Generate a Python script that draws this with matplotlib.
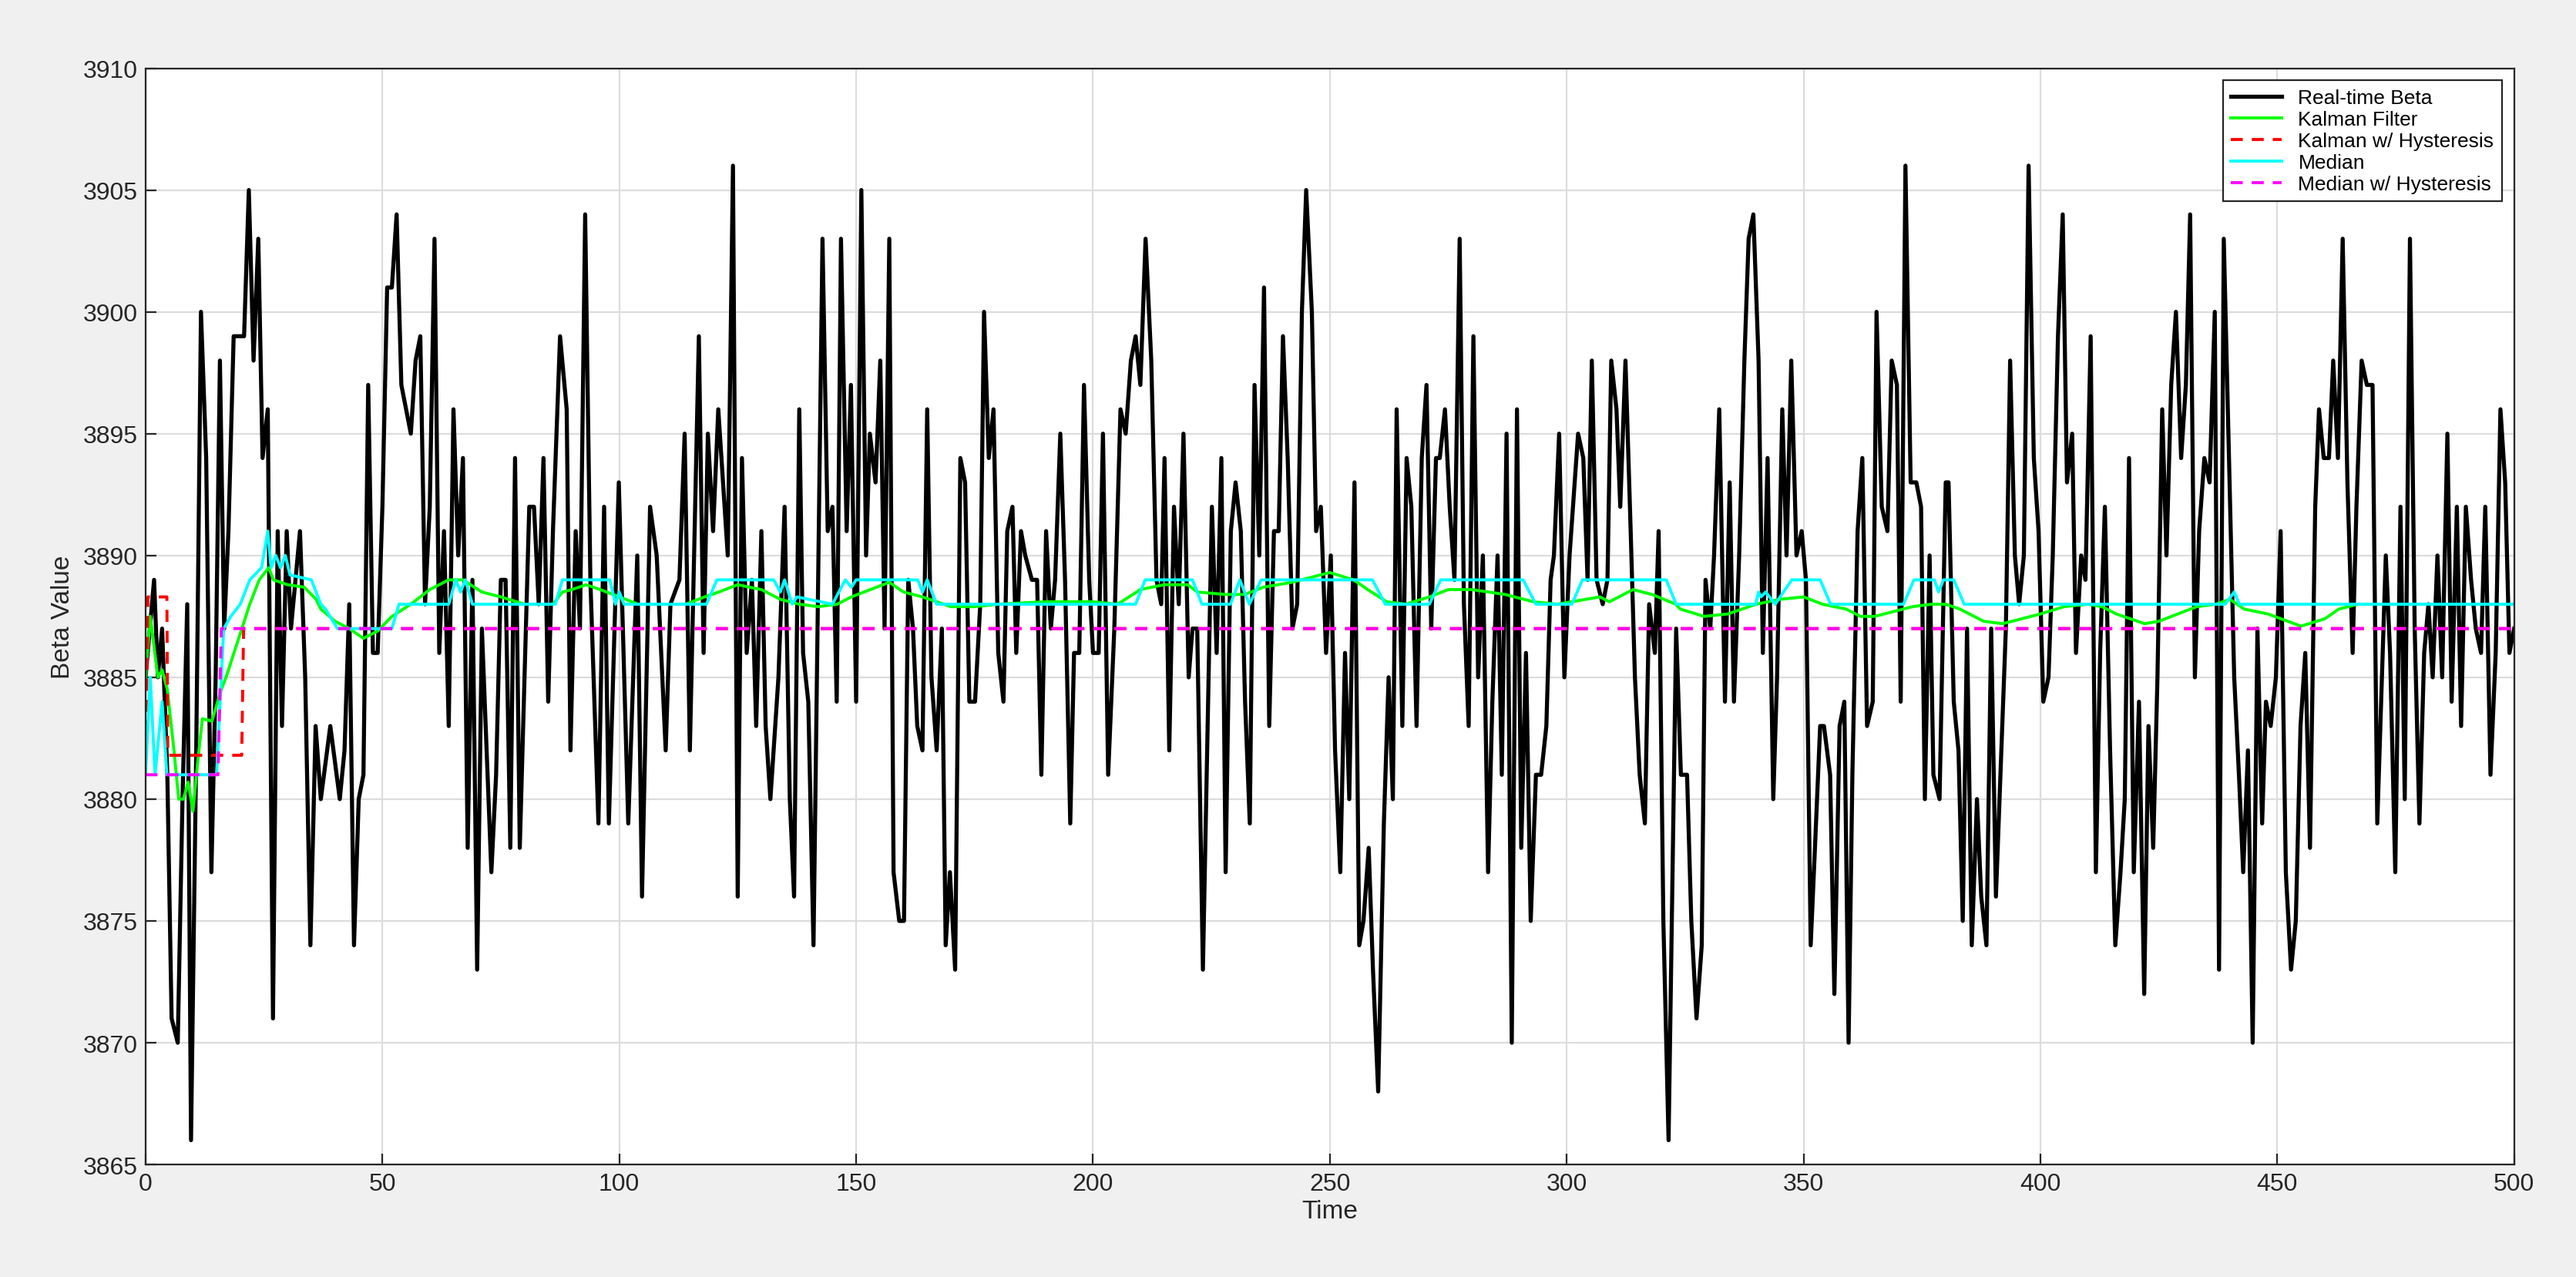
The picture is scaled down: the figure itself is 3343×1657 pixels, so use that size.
import matplotlib
matplotlib.use("Agg")
import matplotlib.pyplot as plt

plt.rcParams['font.family'] = ['Liberation Sans', 'DejaVu Sans']

# Real-time Beta (vertices)
beta_t = [0, 1.8, 2.6, 3.5, 4.6, 5.5, 6.8, 7.8, 8.8, 9.6, 10.7, 11.7, 12.8, 13.9, 14.8, 15.7, 16.6, 17.5, 18.6,
          20.8, 21.8, 22.8, 23.8, 24.7, 25.8, 26.9, 27.9, 28.8, 29.8, 30.7, 32.6, 33.7, 34.8, 35.9, 37, 39, 41, 42,
          43, 44, 45, 46, 47, 48, 49, 50, 51, 52, 53, 54, 56, 57, 58, 59, 60, 61, 62, 63, 64, 65, 66, 67, 68, 69,
          70, 71, 73, 74, 75, 76, 77, 78, 79, 81, 82, 83, 84, 85, 86, 87.5,
          88.9, 89.7, 90.8, 91.7, 92.8, 93.9, 95.6, 96.8, 97.8, 99.9, 101.9, 103.8, 104.8, 106.5, 107.9, 109.8,
          110.8, 112.7, 113.8, 114.9, 116.8, 117.8, 118.7, 119.8, 120.9, 122.9, 124.0, 125.0, 125.9, 126.9, 128.0,
          128.9, 130.0, 130.9, 131.9, 133.6, 134.9, 136.0, 136.9, 138.0, 138.8, 139.9, 141.0, 142.9, 144.0, 145.0,
          145.9, 146.8, 148.0, 148.9, 150.0, 151.1, 152.1, 152.9, 154.1, 155.1, 156.0, 157.0, 157.9, 159.1, 160.1,
          161.0, 162.0, 162.9, 164.0, 165.0, 165.9, 167.0, 168.1, 168.9, 169.8, 170.9, 172.0, 173.0, 173.9, 175.1,
          176.2, 177.0, 178.0, 179.0, 180.0, 181.1, 181.9, 183.0, 183.8, 184.8, 185.7, 187.1, 188.2, 189.1, 190.1,
          191.1, 192.0, 193.1, 194.1, 195.2, 196.0, 197.1, 198.1, 199.2, 200.0, 201.2, 202.1, 203.2, 204.5, 205.8,
          206.9, 208.0, 209.0, 210.0, 211.1, 212.3, 213.4, 214.4, 215.1, 216.1, 217.1, 218.1, 219.1, 220.2, 221.0,
          222.0, 223.2, 225.1, 226.1, 227.1, 228.0, 229.1, 230.1, 231.2, 232.1, 233.1, 234.1, 235.1, 236.1, 237.2,
          238.2, 239.2, 240.1, 241.1, 242.1, 243.1, 244.1, 245.0, 246.2, 247.1, 248.1, 249.2, 250.2, 251.1, 252.2,
          253.2, 254.1, 255.2, 256.2, 257.1, 258.2, 259.1, 260.2, 261.4, 262.4, 263.3, 264.1, 265.3, 266.2, 267.2,
          268.3, 269.4, 270.4, 271.4, 272.4, 273.2, 274.3, 275.3, 276.3, 277.4, 278.3, 279.3, 280.3, 281.3, 282.3,
          283.4, 284.3, 285.4, 286.3, 287.3, 288.4, 289.5, 290.4, 291.4, 292.4, 293.5, 294.6, 295.7, 296.6, 297.3,
          298.4, 299.5, 300.6, 302.4, 303.5, 304.4, 305.3, 306.3, 307.6, 308.6, 309.4, 310.5, 311.3, 312.4, 313.5,
          314.4, 315.4, 316.5, 317.4, 318.6, 319.4, 320.4, 321.5, 323.1, 324.1, 325.4, 326.3, 327.4, 328.5, 329.3,
          330.3, 331.1, 332.2, 333.4, 334.4, 335.3, 336.4, 337.5, 338.4, 339.4, 340.5, 341.4, 342.4, 343.6, 344.4,
          345.5, 346.4, 347.4, 348.5, 349.6, 350.5, 351.5, 352.4, 353.5, 354.3, 355.6, 356.5, 357.6, 358.6, 359.5,
          360.3, 361.4, 362.4, 363.4, 364.6, 365.4, 366.5, 367.7, 368.6, 369.7, 370.5, 371.5, 372.6, 373.8, 374.8,
          375.6, 376.6, 377.4, 378.7, 380.0, 380.6, 381.7, 382.7, 383.6, 384.5, 385.5, 386.6, 387.5, 388.6, 389.6,
          390.6, 392.7, 393.6, 394.6, 395.5, 396.5, 397.5, 398.6, 399.6, 400.6, 401.7, 402.6, 403.7, 404.7, 405.6,
          406.7, 407.5, 408.6, 409.5, 410.6, 411.7, 412.6, 413.6, 414.7, 415.8, 416.9, 417.8, 418.7, 419.7, 420.8,
          421.9, 422.8, 423.8, 424.7, 425.7, 426.6, 427.6, 428.6, 429.7, 430.7, 431.6, 432.6, 433.5, 434.6, 435.7,
          436.8, 437.7, 438.7, 439.8, 440.9, 441.9, 442.8, 443.8, 444.8, 445.8, 446.8, 447.6, 448.6, 449.7, 450.7,
          451.8, 452.9, 453.9, 454.9, 455.9, 456.9, 458.0, 458.8, 459.8, 460.9, 461.8, 462.8, 463.8, 464.8, 465.9,
          466.7, 467.8, 468.9, 470.1, 471.1, 472.9, 473.8, 474.9, 476.0, 476.9, 478.0, 479.0, 480.0, 481.0, 481.9,
          482.8, 483.8, 484.8, 485.9, 486.8, 487.9, 488.8, 489.8, 490.9, 491.9, 493.0, 493.9, 495.0, 496.1, 497.1,
          498.1, 499.0, 500]
beta_v = [3885, 3889, 3885, 3887, 3881, 3871, 3870, 3880, 3888, 3866, 3882, 3900, 3894, 3877, 3885, 3898, 3887, 3891, 3899,
          3899, 3905, 3898, 3903, 3894, 3896, 3871, 3891, 3883, 3891, 3887, 3891, 3885, 3874, 3883, 3880, 3883, 3880, 3882,
          3888, 3874, 3880, 3881, 3897, 3886, 3886, 3892, 3901, 3901, 3904, 3897, 3895, 3898, 3899, 3888, 3892, 3903, 3886, 3891,
          3883, 3896, 3890, 3894, 3878, 3889, 3873, 3887, 3877, 3881, 3889, 3889, 3878, 3894, 3878, 3892, 3892, 3888, 3894,
          3884, 3891, 3899,
          3896, 3882, 3891, 3887, 3904, 3889, 3879, 3892, 3879, 3893, 3879, 3890, 3876, 3892, 3890, 3882,
          3888, 3889, 3895, 3882, 3899, 3886, 3895, 3891, 3896, 3890, 3906, 3876, 3894, 3886, 3889,
          3883, 3891, 3883, 3880, 3885, 3892, 3880, 3876, 3896, 3886, 3884, 3874, 3903, 3891, 3892,
          3884, 3903, 3891, 3897, 3884, 3905, 3890, 3895, 3893, 3898, 3887, 3903, 3877, 3875, 3875,
          3889, 3887, 3883, 3882, 3896, 3885, 3882, 3887, 3874, 3877, 3873, 3894, 3893, 3884, 3884,
          3888, 3900, 3894, 3896, 3886, 3884, 3891, 3892, 3886, 3891, 3890, 3889, 3889, 3881, 3891,
          3887, 3889, 3895, 3889, 3879, 3886, 3886, 3897, 3889, 3886, 3886, 3895, 3881, 3887, 3896,
          3895, 3898, 3899, 3897, 3903, 3898, 3889, 3888, 3894, 3882, 3892, 3888, 3895, 3885, 3887,
          3887, 3873, 3892, 3886, 3894, 3877, 3891, 3893, 3891, 3884, 3879, 3897, 3890, 3901, 3883,
          3891, 3891, 3899, 3894, 3887, 3888, 3900, 3905, 3900, 3891, 3892, 3886, 3890, 3882, 3877,
          3886, 3880, 3893, 3874, 3875, 3878, 3873, 3868, 3879, 3885, 3880, 3896, 3883, 3894, 3892,
          3883, 3894, 3897, 3887, 3894, 3894, 3896, 3892, 3889, 3903, 3888, 3883, 3899, 3885, 3890,
          3877, 3884, 3890, 3881, 3895, 3870, 3896, 3878, 3886, 3875, 3881, 3881, 3883, 3889, 3890,
          3895, 3885, 3890, 3895, 3894, 3889, 3898, 3889, 3888, 3889, 3898, 3896, 3892, 3898, 3891,
          3885, 3881, 3879, 3888, 3886, 3891, 3875, 3866, 3887, 3881, 3881, 3875, 3871, 3874, 3889,
          3887, 3890, 3896, 3884, 3893, 3884, 3890, 3898, 3903, 3904, 3898, 3886, 3894, 3880, 3885,
          3896, 3890, 3898, 3890, 3891, 3889, 3874, 3878, 3883, 3883, 3881, 3872, 3883, 3884, 3870,
          3881, 3891, 3894, 3883, 3884, 3900, 3892, 3891, 3898, 3897, 3884, 3906, 3893, 3893, 3892,
          3880, 3890, 3881, 3880, 3893, 3893, 3884, 3882, 3875, 3887, 3874, 3880, 3876, 3874, 3887,
          3876, 3887, 3898, 3890, 3888, 3890, 3906, 3894, 3891, 3884, 3885, 3890, 3899, 3904, 3893,
          3895, 3886, 3890, 3889, 3899, 3877, 3886, 3892, 3882, 3874, 3877, 3880, 3894, 3877, 3884,
          3872, 3883, 3878, 3885, 3896, 3890, 3897, 3900, 3894, 3897, 3904, 3885, 3891, 3894, 3893,
          3900, 3873, 3903, 3894, 3885, 3881, 3877, 3882, 3870, 3887, 3879, 3884, 3883, 3885, 3891,
          3877, 3873, 3875, 3883, 3886, 3878, 3892, 3896, 3894, 3894, 3898, 3894, 3903, 3893, 3886,
          3892, 3898, 3897, 3897, 3879, 3890, 3886, 3877, 3892, 3880, 3903, 3887, 3879, 3886, 3888,
          3885, 3890, 3885, 3895, 3884, 3892, 3883, 3892, 3889, 3887, 3886, 3892, 3881, 3886, 3896,
          3893, 3886, 3887]

# Kalman Filter
kal_t = [0, 1, 2.6, 3.5, 4.6, 6, 7, 8, 9, 10, 11, 12, 14, 16, 17, 19.5, 22, 24, 26, 27, 30, 33.5, 36, 37, 40, 43, 46,
         49, 52, 56, 60, 64, 67, 71, 75, 80, 86, 88, 90, 93, 96, 100, 104, 114, 118, 121, 125, 130, 134, 138, 142,
         146, 149, 153, 157, 160, 164, 167, 170, 175, 180, 190, 200, 205, 206, 210, 215, 220, 222, 228, 232, 236,
         242, 248, 250, 255, 258, 262, 266, 271, 275, 280, 287, 293, 298, 304, 307, 309, 312, 314, 318, 323, 324,
         329, 334, 340, 345, 350, 354, 359, 362, 365, 369, 373, 377, 380, 383, 388, 392, 396, 400, 405, 410, 413,
         416, 422, 425, 429, 433, 437, 440, 443, 448, 455, 460, 463, 467, 500]
kal_v = [3885, 3887.5, 3885, 3885.3, 3884.5, 3882, 3880, 3880, 3880.7, 3879.5, 3881.5, 3883.3, 3883.2, 3884.5, 3885,
         3886.5, 3888, 3889, 3889.5, 3889, 3888.8, 3888.7, 3888.2, 3887.8, 3887.3, 3887, 3886.6, 3886.9, 3887.5, 3888,
         3888.6, 3889, 3889, 3888.5, 3888.3, 3888, 3888, 3888.5, 3888.6, 3888.8, 3888.6, 3888.3, 3888, 3888, 3888.3,
         3888.5, 3888.8, 3888.6, 3888.2, 3888, 3887.9, 3888, 3888.3, 3888.6, 3888.9, 3888.5, 3888.3, 3888.1, 3887.9,
         3887.9, 3888, 3888.1, 3888.1, 3888, 3888.1, 3888.6, 3888.8, 3888.8, 3888.5, 3888.4, 3888.4, 3888.7, 3888.9,
         3889.2, 3889.3, 3889, 3888.6, 3888.1, 3888, 3888.3, 3888.6, 3888.6, 3888.4, 3888.1, 3888, 3888.2, 3888.3,
         3888.1, 3888.4, 3888.6, 3888.4, 3888, 3887.8, 3887.5, 3887.6, 3888, 3888.2, 3888.3, 3888, 3887.8, 3887.5,
         3887.5, 3887.7, 3887.9, 3888, 3888, 3887.8, 3887.3, 3887.2, 3887.4, 3887.6, 3887.9, 3888, 3887.9, 3887.6,
         3887.2, 3887.3, 3887.6, 3887.9, 3888, 3888.2, 3887.8, 3887.6, 3887.1, 3887.4, 3887.8, 3888, 3888]

# Kalman w/ Hysteresis
kh_t = [0, 0.5, 4.5, 4.7, 20.3, 20.7, 500]
kh_v = [3881, 3888.3, 3888.3, 3881.8, 3881.8, 3887, 3887]

# Median
med_t = [0, 1, 2, 3.5, 4.5, 15, 16.5, 18, 20, 22, 24.5, 25.8, 26.5, 27.5, 28.5, 29.5, 30.5, 35, 37, 38, 40.5, 52, 53.5,
         64, 65.5, 66.5, 67.5, 69, 86.5, 88, 98, 99.2, 100, 101, 118.4, 120.6, 132.6, 134, 134.9, 136.5, 137.5, 145,
         147.7, 149, 150, 151, 163, 164, 165, 167, 209, 211, 221, 223, 229, 231, 233, 235.5, 259, 261.7, 271, 273.4,
         290.8, 293.5, 301.1, 303.3, 321, 323.1, 339.9, 340.5, 341, 342, 344, 347.5, 353.5, 355.7, 371.1, 373.3,
         377.6, 378.5, 379.5, 381.7, 383.9, 439, 440.9, 442, 500]
med_v = [3881, 3885, 3881, 3884, 3881, 3881, 3887, 3887.5, 3888, 3889, 3889.5, 3891, 3889.5, 3890, 3889.5, 3890, 3889.2,
         3889, 3888, 3887.8, 3887, 3887, 3888, 3888, 3889, 3888.5, 3889, 3888, 3888, 3889, 3889, 3888, 3888.5, 3888,
         3888, 3889, 3889, 3888.5, 3889, 3888, 3888.3, 3888, 3889, 3888.7, 3889, 3889, 3889, 3888.5, 3889, 3888, 3888,
         3889, 3889, 3888, 3888, 3889, 3888, 3889, 3889, 3888, 3888, 3889, 3889, 3888, 3888, 3889, 3889, 3888, 3888,
         3888.5, 3888.3, 3888.5, 3888, 3889, 3889, 3888, 3888, 3889, 3889, 3888.5, 3889, 3889, 3888, 3888, 3888.5,
         3888, 3888]

# Median w/ Hysteresis
mh_t = [0, 15.3, 16.0, 500]
mh_v = [3881, 3881, 3887, 3887]

fig = plt.figure(figsize=(3343 / 200, 1658 / 200), dpi=200, facecolor='#f0f0f0')
ax = fig.add_axes([0.0565, 0.088, 0.9195, 0.858])
ax.set_facecolor('white')

ax.plot(beta_t, beta_v, color='black', lw=1.9, label='Real-time Beta')
ax.plot(kal_t, kal_v, color='#00ff00', lw=1.4, label='Kalman Filter')
ax.plot(kh_t, kh_v, color='red', lw=1.4, ls=(0, (4, 3)), label='Kalman w/ Hysteresis')
ax.plot(med_t, med_v, color='cyan', lw=1.4, label='Median')
ax.plot(mh_t, mh_v, color='magenta', lw=1.4, ls=(0, (4, 3)), label='Median w/ Hysteresis')

ax.set_xlim(0, 500)
ax.set_ylim(3865, 3910)
ax.set_xticks(range(0, 501, 50))
ax.set_yticks(range(3865, 3911, 5))
ax.grid(True, color='#dcdcdc', lw=0.8)
ax.set_axisbelow(True)
ax.tick_params(direction='in', labelsize=11.5, colors='#262626', length=5, top=False, right=False)
for s in ax.spines.values():
    s.set_color('#262626')
    s.set_linewidth(0.8)
ax.set_xlabel('Time', fontsize=12, color='#262626', labelpad=2)
ax.set_ylabel('Beta Value', fontsize=12, color='#262626')

leg = ax.legend(loc='upper right', fontsize=9.5, fancybox=False, framealpha=1, edgecolor='#262626',
                handlelength=2.5, borderaxespad=0.6, labelspacing=0.15)
leg.get_frame().set_linewidth(0.8)

fig.savefig('out.png', dpi=200, facecolor=fig.get_facecolor())
